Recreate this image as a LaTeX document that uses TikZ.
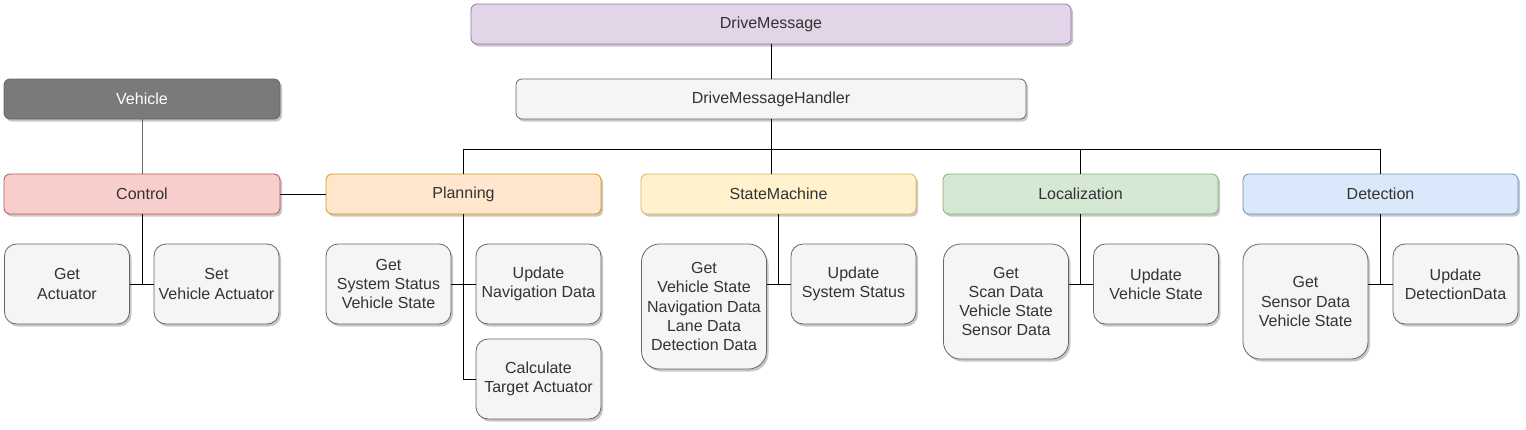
\documentclass[tikz,border=0pt]{standalone}
\usepackage{fontspec}
\setmainfont{Liberation Sans}
\usetikzlibrary{shadows}
\definecolor{txt}{HTML}{333333}
\definecolor{gfill}{HTML}{F5F5F5}
\definecolor{gline}{HTML}{666666}
\definecolor{dmline}{HTML}{9673A6}
\definecolor{dmfill}{HTML}{E1D5E7}
\definecolor{vfill}{HTML}{7A7A7A}
\definecolor{cline}{HTML}{B85450}
\definecolor{cfill}{HTML}{F8CECC}
\definecolor{pline}{HTML}{D79B00}
\definecolor{pfill}{HTML}{FFE6CC}
\definecolor{sline}{HTML}{D6B656}
\definecolor{sfill}{HTML}{FFF2CC}
\definecolor{lline}{HTML}{82B366}
\definecolor{lfill}{HTML}{D5E8D4}
\definecolor{dline}{HTML}{6C8EBF}
\definecolor{dfill}{HTML}{DAE8FC}
\begin{document}
\begin{tikzpicture}[x=1pt,y=-1pt,
  base/.style={rectangle, inner sep=0pt, align=center, text=txt,
    font=\fontsize{16}{19.2}\selectfont, line width=0.8pt,
    drop shadow={shadow xshift=2pt, shadow yshift=-2.5pt, opacity=0.22, fill=black}},
  topbox/.style={base, minimum width=275pt, minimum height=40pt, rounded corners=6pt},
  child/.style={base, draw=gline, fill=gfill, minimum width=125pt, rounded corners=12pt},
  link/.style={draw=black, line width=1pt}]
\useasboundingbox (0,0) rectangle (1526,429);
% top level
\node[topbox, draw=dmline, fill=dmfill, minimum width=600pt] (dm) at (771,24) {DriveMessage};
\node[topbox, draw=gline, fill=gfill, minimum width=510pt] (dmh) at (771,99) {DriveMessageHandler};
\node[topbox, draw=gline, fill=vfill, text=white, minimum width=276pt] (veh) at (142,99) {Vehicle};
% modules
\node[topbox, draw=cline, fill=cfill, minimum width=276pt] (ctl) at (142,194) {Control};
\node[topbox, draw=pline, fill=pfill] (pln) at (463.5,194) {Planning};
\node[topbox, draw=sline, fill=sfill] (sm) at (778.5,194) {StateMachine};
\node[topbox, draw=lline, fill=lfill] (loc) at (1080.5,194) {Localization};
\node[topbox, draw=dline, fill=dfill] (det) at (1380.5,194) {Detection};
% children
\node[child, minimum height=80pt] (cget) at (67,284) {Get\\Actuator};
\node[child, minimum height=80pt] (cset) at (216.5,284) {Set\\Vehicle Actuator};
\node[child, minimum height=80pt] (pget) at (388.5,284) {Get\\System Status\\Vehicle State};
\node[child, minimum height=80pt] (pupd) at (538.5,284) {Update\\Navigation Data};
\node[child, minimum height=80pt] (pcal) at (538.5,379) {Calculate\\Target Actuator};
\node[child, minimum height=125pt, rounded corners=18pt] (sget) at (704,306.5) {Get\\Vehicle State\\Navigation Data\\Lane Data\\Detection Data};
\node[child, minimum height=80pt] (supd) at (853.5,284) {Update\\System Status};
\node[child, minimum height=115pt, rounded corners=17pt] (lget) at (1006,301.5) {Get\\Scan Data\\Vehicle State\\Sensor Data};
\node[child, minimum height=80pt] (lupd) at (1156,284) {Update\\Vehicle State};
\node[child, minimum height=115pt, rounded corners=17pt] (dget) at (1305.5,301.5) {Get\\Sensor Data\\Vehicle State};
\node[child, minimum height=80pt] (dupd) at (1455.5,284) {Update\\DetectionData};
% connectors
\coordinate (bus) at (771,149);
\draw[link] (dm.south) -- (dmh.north);
\draw[link] (dmh.south) -- (bus) -| (pln.north);
\draw[link] (bus) -- (bus |- sm.north);
\draw[link] (bus) -| (loc.north);
\draw[link] (bus) -| (det.north);
\draw[draw=gline, line width=1pt] (veh.south) -- (ctl.north);
\draw[link] (ctl.east) -- (pln.west);
\draw[link] (ctl.south) |- (cget.east);
\draw[link] (ctl.south) |- (cset.west);
\draw[link] (pln.south) |- (pget.east);
\draw[link] (pln.south) |- (pupd.west);
\draw[link] (pln.south) |- (pcal.west);
\draw[link] (sm.south) |- (supd.west);
\draw[link] (sm.south |- supd.west) -- (supd.west -| sget.east);
\draw[link] (loc.south) |- (lupd.west);
\draw[link] (loc.south |- lupd.west) -- (lupd.west -| lget.east);
\draw[link] (det.south) |- (dupd.west);
\draw[link] (det.south |- dupd.west) -- (dupd.west -| dget.east);
\end{tikzpicture}
\end{document}
